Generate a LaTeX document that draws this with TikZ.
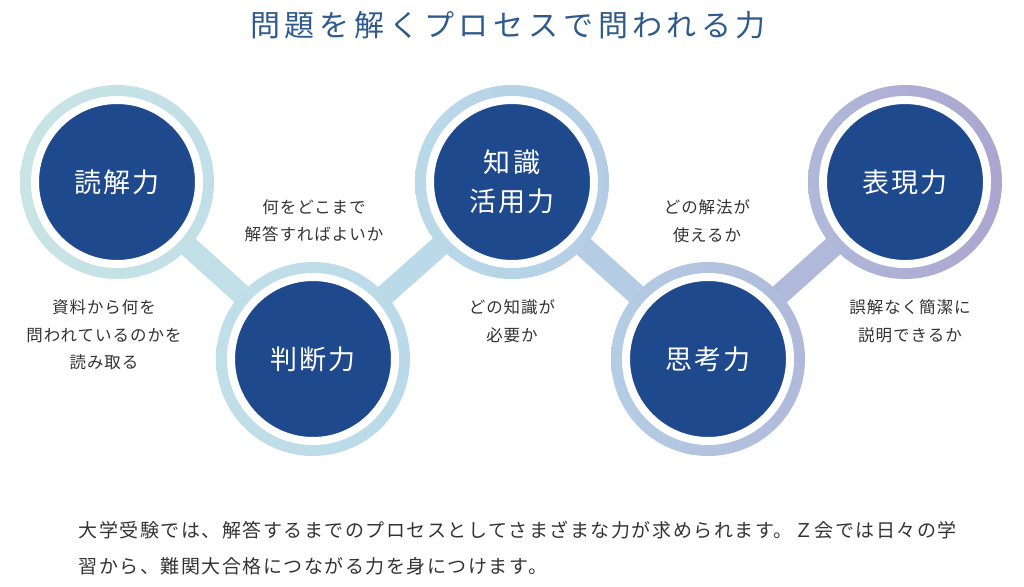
\documentclass[tikz,border=0pt]{standalone}
\usepackage{fontspec}
\setmainfont{Noto Sans CJK JP}
\newfontfamily\headfont[LetterSpace=16]{Noto Sans CJK JP}
\newfontfamily\skillfont[LetterSpace=8]{Noto Sans CJK JP}
\newfontfamily\notefont[LetterSpace=6]{Noto Sans CJK JP}
\newfontfamily\bodyfont[LetterSpace=8]{Noto Sans CJK JP}
\definecolor{navy}{RGB}{30,73,141}
\definecolor{headblue}{RGB}{47,90,140}
\definecolor{ringA}{RGB}{200,228,228}
\definecolor{ringB}{RGB}{182,215,234}
\definecolor{ringC}{RGB}{172,165,207}
\definecolor{textgray}{RGB}{51,51,51}
\begin{document}
\begin{tikzpicture}[x=1pt,y=-1pt,
  ringstyle/.style={circle, minimum size=194pt, inner sep=0pt},
  skillstyle/.style={circle, minimum size=164pt, inner sep=0pt, fill=navy, draw=white, line width=8pt, text=white, align=center, font=\skillfont\fontsize{27}{39}\selectfont},
  bandstyle/.style={line width=21pt, shorten <=-1pt, shorten >=-1pt},
  notestyle/.style={text=textgray, align=center, font=\notefont\fontsize{16.5}{27.5}\selectfont}]
  \useasboundingbox (0,0) rectangle (1024,586);

  \node[text=headblue, font=\headfont\fontsize{30}{30}\selectfont] (title) at (508,25) {問題を解くプロセスで問われる力};

  \node[ringstyle, left color=ringA, right color=ringA!60!ringB] (r1) at (117,182) {};
  \node[ringstyle, left color=ringA!60!ringB, right color=ringA!20!ringB] (r2) at (313,359) {};
  \node[ringstyle, left color=ringA!20!ringB, right color=ringB!80!ringC] (r3) at (512,182) {};
  \node[ringstyle, left color=ringB!80!ringC, right color=ringB!40!ringC] (r4) at (708,359) {};
  \node[ringstyle, left color=ringB!40!ringC, right color=ringC] (r5) at (905,182) {};

  \draw[bandstyle, ringA!60!ringB] (r1) -- (r2);
  \draw[bandstyle, ringA!20!ringB] (r2) -- (r3);
  \draw[bandstyle, ringB!80!ringC] (r3) -- (r4);
  \draw[bandstyle, ringB!40!ringC] (r4) -- (r5);

  \node[skillstyle] (s1) at (r1) {読解力};
  \node[skillstyle] (s2) at (r2) {判断力};
  \node[skillstyle] (s3) at (r3) {知識\\活用力};
  \node[skillstyle] (s4) at (r4) {思考力};
  \node[skillstyle] (s5) at (r5) {表現力};

  \node[notestyle] (n1) at (104,335) {資料から何を\\問われているのかを\\読み取る};
  \node[notestyle] (n2) at (314,221) {何をどこまで\\解答すればよいか};
  \node[notestyle] (n3) at (512,321) {どの知識が\\必要か};
  \node[notestyle] (n4) at (707,221) {どの解法が\\使えるか};
  \node[notestyle] (n5) at (910,321) {誤解なく簡潔に\\説明できるか};

  \node[anchor=west, align=left, text=textgray, font=\bodyfont\fontsize{19}{36}\selectfont] (body) at (75,548) {大学受験では、解答するまでのプロセスとしてさまざまな力が求められます。Ｚ会では日々の学\\習から、難関大合格につながる力を身につけます。};
\end{tikzpicture}
\end{document}
